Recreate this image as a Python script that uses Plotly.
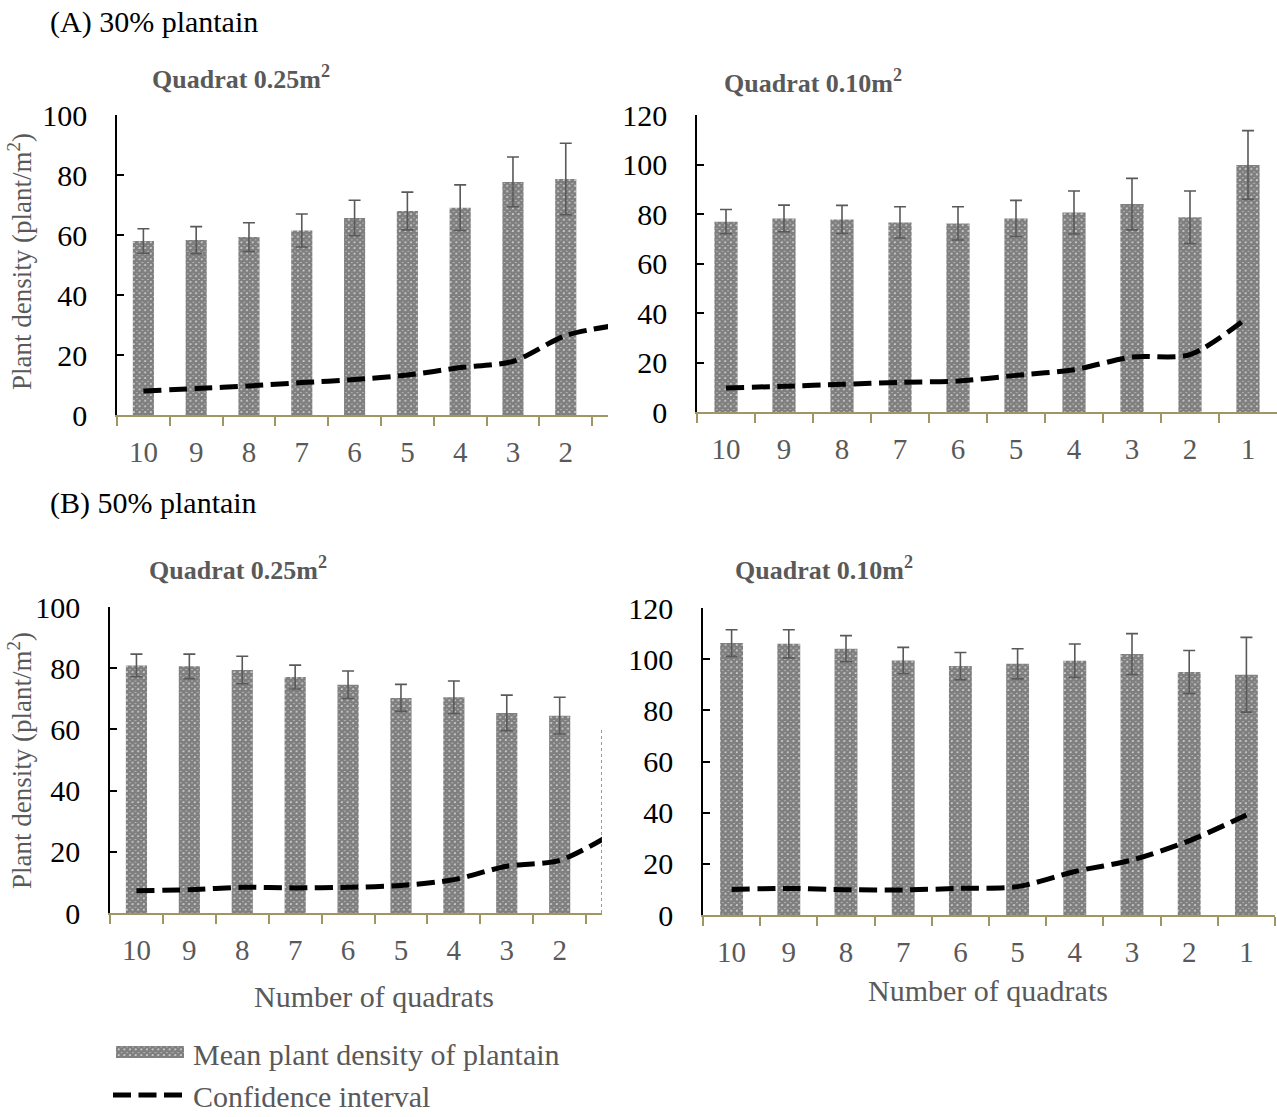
import plotly.graph_objects as go

W, H = 1277, 1117

quadrats = ["10", "9", "8", "7", "6", "5", "4", "3", "2", "1"]

# (A) 30% plantain, quadrat 0.25 m2
a25_mean = [58.0, 58.3, 59.3, 61.5, 65.7, 68.0, 69.1, 77.7, 78.7, None]
a25_err = [4.1, 4.5, 4.8, 5.5, 5.9, 6.3, 7.6, 8.3, 11.9, None]
a25_ci = [8.0, 8.8, 9.7, 10.8, 11.8, 13.3, 15.8, 17.9, 26.5, 30.0]

# (A) 30% plantain, quadrat 0.10 m2
a10_mean = [76.9, 78.2, 77.8, 76.6, 76.2, 78.2, 80.6, 84.0, 78.7, 99.8]
a10_err = [4.9, 5.4, 5.7, 6.3, 6.7, 7.3, 8.7, 10.4, 10.6, 13.9]
a10_ci = [9.7, 10.4, 11.2, 12.0, 12.5, 14.8, 17.1, 22.2, 23.2, 38.4]

# (B) 50% plantain, quadrat 0.25 m2
b25_mean = [80.9, 80.6, 79.4, 77.1, 74.6, 70.3, 70.5, 65.4, 64.5, 60.0]
b25_err = [3.7, 4.0, 4.5, 3.9, 4.5, 4.4, 5.3, 5.8, 6.0, None]
b25_ci = [7.3, 7.6, 8.4, 8.2, 8.4, 9.0, 10.9, 15.3, 17.2, 26.0]

# (B) 50% plantain, quadrat 0.10 m2
b10_mean = [106.3, 106.0, 104.1, 99.5, 97.3, 98.2, 99.4, 102.0, 95.0, 93.9]
b10_err = [5.2, 5.5, 5.1, 5.1, 5.3, 5.9, 6.5, 8.0, 8.4, 14.6]
b10_ci = [10.0, 10.4, 9.9, 9.8, 10.4, 11.1, 17.0, 21.5, 29.0, 39.1]

panel_titles = ["Quadrat 0.25m<sup>2</sup>", "Quadrat 0.10m<sup>2</sup>",
                "Quadrat 0.25m<sup>2</sup>", "Quadrat 0.10m<sup>2</sup>"]
group_titles = ["(A) 30% plantain", "(B) 50% plantain"]
y_title = "Plant density (plant/m<sup>2</sup>)"
x_title = "Number of quadrats"
legend_labels = ["Mean plant density of plantain", "Confidence interval"]

FONT = "Liberation Serif"
GREY = "#595959"
OLIVE = "#A09662"
PATTERN = dict(shape="x", fgcolor="black", bgcolor="white", size=4, solidity=0.9)
CI_DASH = "18px,7.5px"


def px(x):
    return x / W


def py(y):
    return 1 - y / H


fig = go.Figure()

panels = [
    # (suffix, mean, err, ci, x-domain px, y-domain px, y max, x-range end)
    ("", a25_mean, a25_err, a25_ci, (117, 608), (115, 415), 100, 8.8),
    ("2", a10_mean, a10_err, a10_ci, (697, 1277), (115, 412), 120, 9.5),
    ("3", b25_mean, b25_err, b25_ci, (110, 602), (607, 913), 100, 8.8),
    ("4", b10_mean, b10_err, b10_ci, (703, 1275), (608, 915), 120, 9.5),
]

for suf, mean, err, ci, xd, yd, ymax, xend in panels:
    xa, ya = "x" + suf, "y" + suf
    fig.add_trace(go.Bar(
        x=quadrats, y=mean, xaxis=xa, yaxis=ya,
        marker=dict(color="white", line=dict(width=0), pattern=PATTERN),
        error_y=dict(type="data", array=err, visible=True,
                     color=GREY, thickness=1.6, width=6),
        showlegend=False,
    ))
    fig.add_trace(go.Scatter(
        x=quadrats, y=ci, xaxis=xa, yaxis=ya, mode="lines",
        line=dict(color="black", width=5, dash=CI_DASH,
                  shape="spline", smoothing=0.8),
        showlegend=False, cliponaxis=True,
    ))
    fig.update_layout(**{
        "xaxis" + suf: dict(
            domain=[px(xd[0]), px(xd[1])], anchor=ya, automargin=False,
            type="category", range=[-0.5, xend],
            showline=True, linecolor=OLIVE, linewidth=2,
            ticks="outside", tickson="boundaries", ticklen=9,
            tickcolor=OLIVE, tickwidth=2, showgrid=False, zeroline=False,
            tickfont=dict(family=FONT, size=29, color=GREY),
            ticklabelstandoff=10, fixedrange=True,
        ),
        "yaxis" + suf: dict(
            domain=[py(yd[1]), py(yd[0])], anchor=xa, automargin=False,
            range=[0, ymax], dtick=20,
            showline=True, linecolor="black", linewidth=1.6,
            ticks="inside", ticklen=7, tickcolor="black", tickwidth=1.6,
            showgrid=False, zeroline=False,
            tickfont=dict(family=FONT, size=30, color="black"),
            ticklabelstandoff=22, fixedrange=True,
        ),
    })

# edge of the clipped last bar in the (B) 0.25 m2 panel
fig.add_shape(type="line", xref="x3", yref="y3", x0=8.8, x1=8.8,
              y0=0, y1=b25_mean[-1], line=dict(color="#333333", width=1, dash="dot"))

# legend swatches drawn on a hidden full-page axis measured in pixels
fig.add_trace(go.Bar(
    orientation="h", y=[1052], x=[68], base=[116], width=[12],
    xaxis="x5", yaxis="y5",
    marker=dict(color="white", line=dict(width=0), pattern=PATTERN),
    showlegend=False,
))
fig.add_trace(go.Scatter(
    x=[113, 182], y=[1095, 1095], xaxis="x5", yaxis="y5", mode="lines",
    line=dict(color="black", width=5, dash=CI_DASH), showlegend=False,
))
fig.update_layout(
    xaxis5=dict(domain=[0, 1], range=[0, W], visible=False, anchor="y5",
                fixedrange=True, automargin=False),
    yaxis5=dict(domain=[0, 1], range=[H, 0], visible=False, anchor="x5",
                fixedrange=True, automargin=False),
)

ann = []


def text(t, x, y, size, color, xanchor="center", bold=False, angle=0):
    ann.append(dict(
        text="<b>%s</b>" % t if bold else t,
        x=px(x), y=py(y), xref="paper", yref="paper",
        xanchor=xanchor, yanchor="middle", showarrow=False, textangle=angle,
        font=dict(family=FONT, size=size, color=color),
    ))


text(group_titles[0], 48, 22, 30, "black", xanchor="left")
text(group_titles[1], 48, 503, 30, "black", xanchor="left")
text(panel_titles[0], 241, 77, 26, GREY, bold=True)
text(panel_titles[1], 813, 81, 26, GREY, bold=True)
text(panel_titles[2], 238, 568, 26, GREY, bold=True)
text(panel_titles[3], 824, 568, 26, GREY, bold=True)
text(y_title, 20, 262, 27, GREY, angle=-90)
text(y_title, 20, 761, 27, GREY, angle=-90)
text(x_title, 374, 996, 30, GREY)
text(x_title, 988, 990, 30, GREY)
text(legend_labels[0], 191, 1054, 30, GREY, xanchor="left")
text(legend_labels[1], 191, 1096, 30, GREY, xanchor="left")

fig.update_layout(
    width=W, height=H,
    margin=dict(l=0, r=0, t=0, b=0, pad=0),
    paper_bgcolor="white", plot_bgcolor="rgba(0,0,0,0)",
    bargap=0.6, showlegend=False,
    annotations=ann,
    font=dict(family=FONT),
)

fig.write_html("out.html")
